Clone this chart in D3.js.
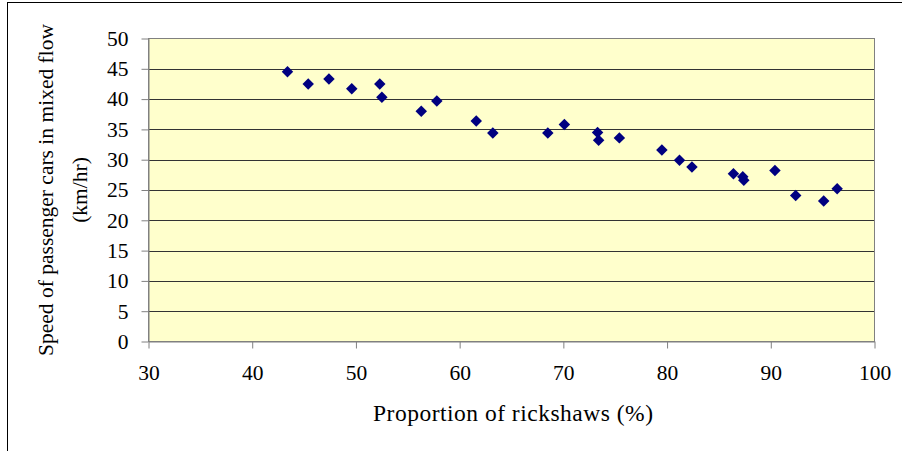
<!DOCTYPE html>
<html>
<head>
<meta charset="utf-8">
<script src="https://cdn.jsdelivr.net/npm/d3@7"></script>
<style>
  html, body { margin: 0; padding: 0; background: #ffffff; }
  svg { display: block; }
  text { font-family: "Liberation Serif", "Times New Roman", serif; fill: #000; }
</style>
</head>
<body>
<svg id="chart" width="902" height="451"></svg>
<script>
// Proportion of rickshaws in the traffic stream (%)
const rickshawShare = [43.4, 45.4, 47.4, 49.6, 52.3, 52.5, 56.3, 57.8, 61.6, 63.2,
                       68.5, 70.1, 73.3, 73.4, 75.4, 79.5, 81.2, 82.4, 86.4, 87.3,
                       87.4, 90.4, 92.4, 95.1, 96.4];
// Mean speed of passenger cars in mixed flow (km/hr)
const carSpeed = [44.5, 42.5, 43.3, 41.7, 42.5, 40.3, 38.0, 39.7, 36.4, 34.4,
                  34.4, 35.8, 34.5, 33.2, 33.6, 31.6, 29.9, 28.8, 27.7, 27.2,
                  26.6, 28.2, 24.1, 23.2, 25.2];
const xTicks = [30, 40, 50, 60, 70, 80, 90, 100];
const yTicks = [0, 5, 10, 15, 20, 25, 30, 35, 40, 45, 50];

const svg = d3.select("#chart");

// Outer chart frame (extends past the right and bottom edges)
svg.append("rect")
  .attr("x", 7.5).attr("y", 2.5)
  .attr("width", 1000).attr("height", 1000)
  .attr("fill", "#ffffff").attr("stroke", "#000").attr("stroke-width", 1);

const plot = { left: 148.5, right: 874.5, top: 38.5, bottom: 341.5 };

const x = d3.scaleLinear().domain([30, 100]).range([plot.left, plot.right]);
const y = d3.scaleLinear().domain([0, 50]).range([plot.bottom, plot.top]);

// Plot background
svg.append("rect")
  .attr("x", plot.left).attr("y", plot.top)
  .attr("width", plot.right - plot.left).attr("height", plot.bottom - plot.top)
  .attr("fill", "#ffffcc");

// Horizontal gridlines
svg.append("g")
  .selectAll("line")
  .data(yTicks.filter(v => v > 0 && v < 50))
  .join("line")
  .attr("x1", plot.left).attr("x2", plot.right)
  .attr("y1", d => Math.round(y(d)) + 0.5).attr("y2", d => Math.round(y(d)) + 0.5)
  .attr("stroke", "#333333").attr("stroke-width", 1);

// Plot border
svg.append("rect")
  .attr("x", plot.left).attr("y", plot.top)
  .attr("width", plot.right - plot.left).attr("height", plot.bottom - plot.top)
  .attr("fill", "none").attr("stroke", "#808080").attr("stroke-width", 1);

const tickFont = 21.5;

// Y axis
const yAxis = svg.append("g")
  .attr("transform", `translate(${plot.left},0)`)
  .call(d3.axisLeft(y).tickValues(yTicks).tickSize(7).tickPadding(13).tickSizeOuter(0));
yAxis.select(".domain").attr("stroke", "#808080");
yAxis.selectAll(".tick line").attr("stroke", "#808080");
yAxis.selectAll(".tick text")
  .attr("font-size", tickFont).attr("font-family", "Liberation Serif").attr("fill", "#000");

// X axis
const xAxis = svg.append("g")
  .attr("transform", `translate(0,${plot.bottom})`)
  .call(d3.axisBottom(x).tickValues(xTicks).tickSize(7).tickPadding(16).tickSizeOuter(0));
xAxis.select(".domain").attr("stroke", "#808080");
xAxis.selectAll(".tick line").attr("stroke", "#808080");
xAxis.selectAll(".tick text")
  .attr("font-size", tickFont).attr("font-family", "Liberation Serif").attr("fill", "#000");

// Axis titles
svg.append("text")
  .attr("x", 513).attr("y", 420.5)
  .attr("text-anchor", "middle").attr("font-size", 23.5)
  .attr("textLength", 280).attr("lengthAdjust", "spacing")
  .text("Proportion of rickshaws (%)");

const yTitle = svg.append("g")
  .attr("transform", `translate(52.5,190) rotate(-90)`);
yTitle.append("text")
  .attr("x", 0).attr("y", 0)
  .attr("text-anchor", "middle").attr("font-size", 21.5)
  .text("Speed of passenger cars in mixed flow");
yTitle.append("text")
  .attr("x", 0).attr("y", 34.5)
  .attr("text-anchor", "middle").attr("font-size", 21.5)
  .text("(km/hr)");

// Data markers (diamonds)
const points = rickshawShare.map((v, i) => ({ px: v, sp: carSpeed[i] }));
svg.append("g")
  .selectAll("path")
  .data(points)
  .join("path")
  .attr("d", d3.symbol().type(d3.symbolDiamond2).size(84))
  .attr("transform", d => `translate(${x(d.px)},${y(d.sp)})`)
  .attr("fill", "#000080");
</script>
</body>
</html>
